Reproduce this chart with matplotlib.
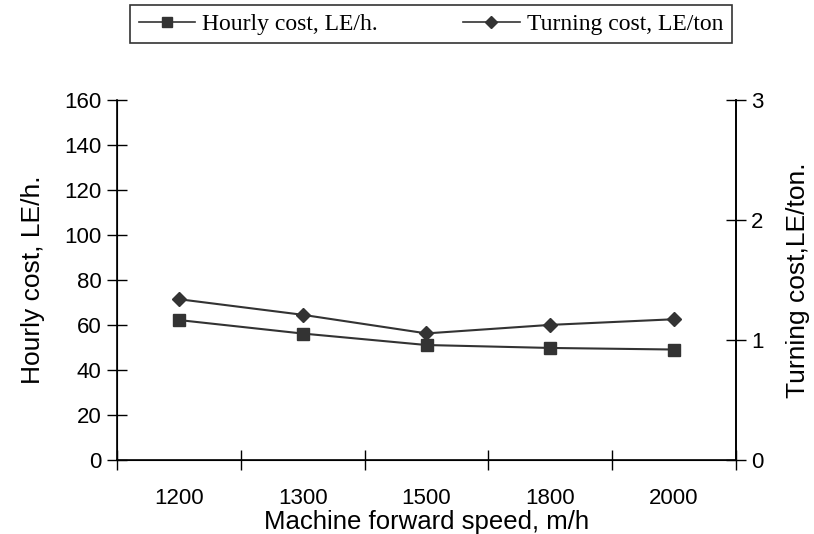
import numpy as np
import matplotlib
matplotlib.use('Agg')
import matplotlib.pyplot as plt
from matplotlib.lines import Line2D

speeds = ['1200', '1300', '1500', '1800', '2000']
hourly_cost = [62.2, 56.2, 51.1, 49.8, 49.1]
turning_cost = [1.34, 1.21, 1.055, 1.126, 1.173]

plt.rcParams['font.family'] = ['Liberation Sans', 'DejaVu Sans']
col = '#333333'

fig = plt.figure(figsize=(8.14, 5.34), dpi=100)
ax = fig.add_axes([117/814, 1-460/534, (736-117)/814, 360/534])
x = np.arange(len(speeds))

ax.plot(x, hourly_cost, color=col, lw=1.5, marker='s', ms=8, mfc=col, mec=col)
ax.set_xlim(-0.5, len(speeds)-0.5)
ax.set_ylim(0, 160)
ax.set_yticks(range(0, 161, 20))
ax.set_xticks(np.arange(-0.5, len(speeds)), minor=False)
ax.set_xticklabels([])
ax.set_xticks(x, minor=True)
ax.set_xticklabels(speeds, minor=True)
ax.tick_params(axis='x', which='major', direction='inout', length=14, width=1)
ax.tick_params(axis='x', which='minor', length=0, pad=20, labelsize=16)
ax.tick_params(axis='y', direction='inout', length=14, width=1, labelsize=16, pad=4)
ax.spines['top'].set_visible(False)
for s in ['left', 'bottom', 'right']:
    ax.spines[s].set_linewidth(1.2)
ax.set_xlabel('Machine forward speed, m/h', fontsize=18.5, labelpad=1)
ax.set_ylabel('Hourly cost, LE/h.', fontsize=19, labelpad=14)

ax2 = ax.twinx()
ax2.plot(x, turning_cost, color=col, lw=1.5, marker='D', ms=7, mfc=col, mec=col)
ax2.set_ylim(0, 3)
ax2.set_yticks([0, 1, 2, 3])
ax2.tick_params(axis='y', direction='inout', length=14, width=1, labelsize=16, pad=4)
ax2.spines['top'].set_visible(False)
ax2.spines['right'].set_linewidth(1.2)
ax2.set_ylabel('Turning cost,LE/ton.', fontsize=19, labelpad=16)

handles = [Line2D([], [], color=col, lw=1.2, marker='s', ms=7, mfc=col),
           Line2D([], [], color=col, lw=1.2, marker='D', ms=6, mfc=col)]
leg = fig.legend(handles, ['Hourly cost, LE/h.', 'Turning cost, LE/ton'],
                 loc='upper center', bbox_to_anchor=(431/814, 1-5/534), ncol=2,
                 frameon=True, fancybox=False, edgecolor='black', handlelength=2.4,
                 columnspacing=3.6, handletextpad=0.3, borderpad=0.35,
                 borderaxespad=0, prop={'family': 'Liberation Serif', 'size': 17})
leg.get_frame().set_linewidth(1.2)

plt.savefig('out.png', dpi=100)
plt.close()
